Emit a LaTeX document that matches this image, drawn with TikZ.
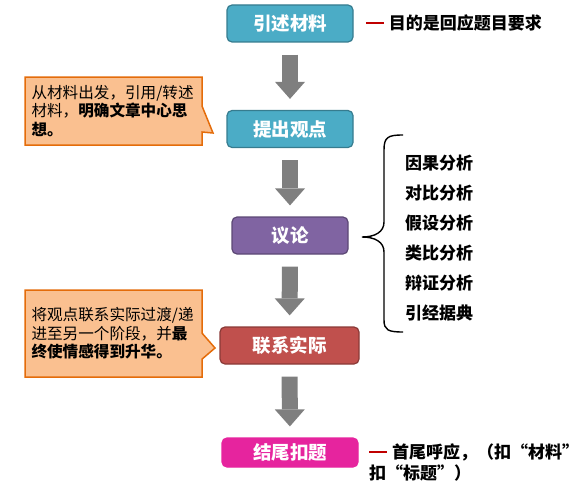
\documentclass[tikz,border=0pt]{standalone}
\usepackage{fontspec}
\setmainfont{Noto Sans CJK SC}
\usepackage{xcolor}
\definecolor{StepTeal}{HTML}{4BACC6}
\definecolor{StepPurple}{HTML}{8064A2}
\definecolor{StepRed}{HTML}{C0504D}
\definecolor{StepPink}{HTML}{E6249E}
\definecolor{ArrowGray}{HTML}{7F7F7F}
\definecolor{NoteFill}{HTML}{FAC090}
\definecolor{NoteOrange}{HTML}{E46C0A}
\definecolor{DashRed}{HTML}{C00000}
\usepackage{tikz}
\usetikzlibrary{arrows.meta,positioning,shapes.callouts}
\newcommand{\reddash}{\textcolor{DashRed}{\rule[0.33em]{1.05em}{2pt}}\hspace{0.3em}}

\begin{document}
\begin{tikzpicture}[x=1pt,y=-1pt,
  stage/.style={draw=#1!72!black,fill=#1,line width=1.2pt,rounded corners=5pt,text=white,font=\fontsize{18.5}{20}\selectfont\bfseries,minimum height=37pt,inner sep=0pt},
  flow/.style={-{Triangle[width=30pt,length=17pt,line width=0pt]},line width=16pt,ArrowGray,shorten <=12pt,shorten >=11pt},
  note/.style={rectangle callout,draw=NoteOrange,fill=NoteFill,line width=1.5pt,font=\fontsize{15.6}{18.5}\selectfont,align=left,text width=164pt,inner xsep=6.5pt,callout pointer width=26pt},
  side/.style={font=\fontsize{17}{21}\selectfont\bfseries,inner sep=0pt},
  item/.style={font=\fontsize{17}{20}\selectfont\bfseries,anchor=west,inner sep=0pt}
]
  \useasboundingbox (0,0) rectangle (580,487);

  % main steps
  \node[stage=StepTeal,minimum width=126pt] (yinshu) at (290,23.5) {引述材料};
  \node[stage=StepTeal,minimum width=126pt] (tichu) at (290,129) {提出观点};
  \node[stage=StepPurple,minimum width=116pt] (yilun) at (290,235.5) {议论};
  \node[stage=StepRed,minimum width=139pt] (lianxi) at (289.5,345.5) {联系实际};
  \node[stage=StepPink,draw=StepPink,minimum width=136pt,minimum height=29pt] (jiewei) at (290,452.5) {结尾扣题};
  \draw[flow] (yinshu) -- (tichu);
  \draw[flow] (tichu) -- (yilun);
  \draw[flow] (yilun) -- (lianxi);
  \draw[flow] (lianxi) -- (jiewei);

  % side remarks
  \node[side,right=12pt of yinshu] (mudi) {\reddash 目的是回应题目要求};
  \node[side,align=left,anchor=west] (huying) at (369,462.5) {\reddash 首尾呼应，（扣“材料”\\扣“标题”）};

  % callouts
  \node[note,minimum height=68pt,callout absolute pointer={(213,133)}] (cong) at (113.5,111)
    {从材料出发，引用/转述\\材料，\textbf{明确文章中心思}\\\textbf{想。}};
  \node[note,minimum height=87pt,callout absolute pointer={(215,348)}] (jiang) at (113.5,333.5)
    {将观点联系实际过渡/递\\进至另一个阶段，并\textbf{最}\\\textbf{终使情感得到升华。}};

  % brace with methods
  \draw[line width=1.4pt] (403,135) .. controls (388,135) and (384,137) .. (384,150) -- (384,222)
    .. controls (384,232) and (375,237) .. (362,237) .. controls (375,237) and (384,242) .. (384,252)
    -- (384,320) .. controls (384,330) and (388,332) .. (403,332);
  \node[item] (yinguo) at (405,163) {因果分析};
  \node[item] (duibi) at (405,193) {对比分析};
  \node[item] (jiashe) at (405,223) {假设分析};
  \node[item] (leibi) at (405,253) {类比分析};
  \node[item] (bianzheng) at (405,283) {辩证分析};
  \node[item] (yinjing) at (405,313) {引经据典};
\end{tikzpicture}
\end{document}
